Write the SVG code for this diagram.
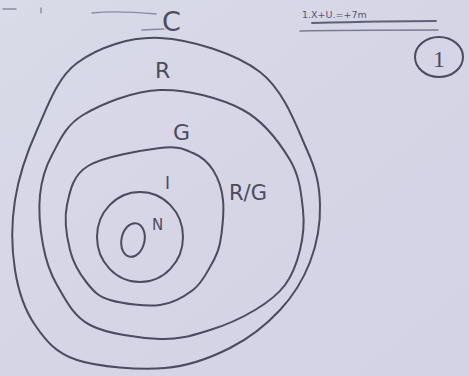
<svg xmlns="http://www.w3.org/2000/svg" width="469" height="376" viewBox="0 0 469 376">
  <defs>
    <linearGradient id="bg" x1="0" y1="0" x2="1" y2="1">
      <stop offset="0" stop-color="#d9dbe8"/>
      <stop offset="0.5" stop-color="#d6d5e6"/>
      <stop offset="1" stop-color="#d3d3e5"/>
    </linearGradient>
  </defs>
  <style>
    .ring { fill: none; stroke: #4b4c60; stroke-width: 2; stroke-linecap: round; }
    .faint { fill: none; stroke: #8a8ca3; stroke-width: 1.4; stroke-linecap: round; }
    .lbl { font-family: "DejaVu Sans", "Liberation Sans", sans-serif; fill: #4b4c60; }
  </style>
  <rect x="0" y="0" width="469" height="376" fill="url(#bg)"/>

  <!-- faint marks at top -->
  <g id="marks">
    <path class="faint" d="M92,13 C110,11 135,12 156,14"/>
    <path class="faint" d="M142,30 L164,29"/>
    <path class="faint" d="M41,8 L41,13"/>
    <path class="faint" d="M3,9 L16,9"/>
  </g>

  <g id="ring-C">
    <path class="ring" d="M160,38 C190.5,39.5 235.5,53.3 260,72 C284.5,90.7 297,127.8 307,150 C317,172.2 319.5,186.3 320,205 C320.5,223.7 316.7,244.5 310,262 C303.3,279.5 293.3,295.7 280,310 C266.7,324.3 249.2,338.3 230,348 C210.8,357.7 190.5,366 165,368 C139.5,370 98.7,367.2 77,360 C55.3,352.8 45.3,340 35,325 C24.7,310 18.3,290.8 15,270 C11.7,249.2 11.3,223.3 15,200 C18.7,176.7 26.7,152.8 37,130 C47.3,107.2 56.5,78.3 77,63 C97.5,47.7 129.5,36.5 160,38 Z"/>
    <text class="lbl" x="162" y="31" font-size="27">C</text>
  </g>

  <g id="ring-R">
    <path class="ring" d="M160,90 C186.7,89.2 221.3,98.3 243,110 C264.7,121.7 280,143.3 290,160 C300,176.7 301.3,195 303,210 C304.7,225 303,237.5 300,250 C297,262.5 292.5,275 285,285 C277.5,295 267.5,302.5 255,310 C242.5,317.5 225.8,325.2 210,330 C194.2,334.8 180,339.8 160,339 C140,338.2 107.2,334 90,325 C72.8,316 64.8,298.3 57,285 C49.2,271.7 45.8,260 43,245 C40.2,230 38.5,210 40,195 C41.5,180 44.8,168.3 52,155 C59.2,141.7 65,125.8 83,115 C101,104.2 133.3,90.8 160,90 Z"/>
    <text class="lbl" x="155" y="78" font-size="22">R</text>
  </g>

  <g id="ring-G">
    <path class="ring" d="M160,148 C177.5,145.8 184.2,149.3 193,153 C201.8,156.7 208,162.2 213,170 C218,177.8 221.8,187.8 223,200 C224.2,212.2 222.2,231.8 220,243 C217.8,254.2 214.5,259.2 210,267 C205.5,274.8 201.3,283.7 193,290 C184.7,296.3 173.8,303.3 160,305 C146.2,306.7 122.2,303.7 110,300 C97.8,296.3 93.7,291.3 87,283 C80.3,274.7 73.3,263.8 70,250 C66.7,237 64,219 67,205 C70,191 72.5,175.5 88,166 C103.5,156.5 142.5,150.2 160,148 Z"/>
    <text class="lbl" x="173" y="140" font-size="22">G</text>
  </g>

  <g id="ring-I">
    <ellipse class="ring" cx="140" cy="237" rx="43" ry="45"/>
    <text class="lbl" x="165" y="189" font-size="17">I</text>
  </g>

  <g id="node-O">
    <ellipse class="ring" cx="133" cy="240" rx="11.5" ry="17" transform="rotate(12 133 240)"/>
    <text class="lbl" x="152" y="230" font-size="15">N</text>
  </g>

  <g id="label-RG">
    <text class="lbl" x="229" y="200" font-size="21">R/G</text>
  </g>

  <g id="heading">
    <text class="lbl" x="302" y="18" font-size="9.5" style="fill:#55576e">1.X+U.=+7m</text>
    <path class="faint" d="M312,23 C350,22 390,21 436,21" style="stroke:#5e6078;stroke-width:1.8"/>
    <path class="faint" d="M300,31 C340,30 390,30 438,30" style="stroke:#7a7c94"/>
  </g>

  <g id="page-number">
    <ellipse class="ring" cx="439" cy="57" rx="24" ry="20"/>
    <text class="lbl" x="439" y="67" font-size="24" text-anchor="middle" style="font-family:'Liberation Serif', serif">1</text>
  </g>
</svg>
